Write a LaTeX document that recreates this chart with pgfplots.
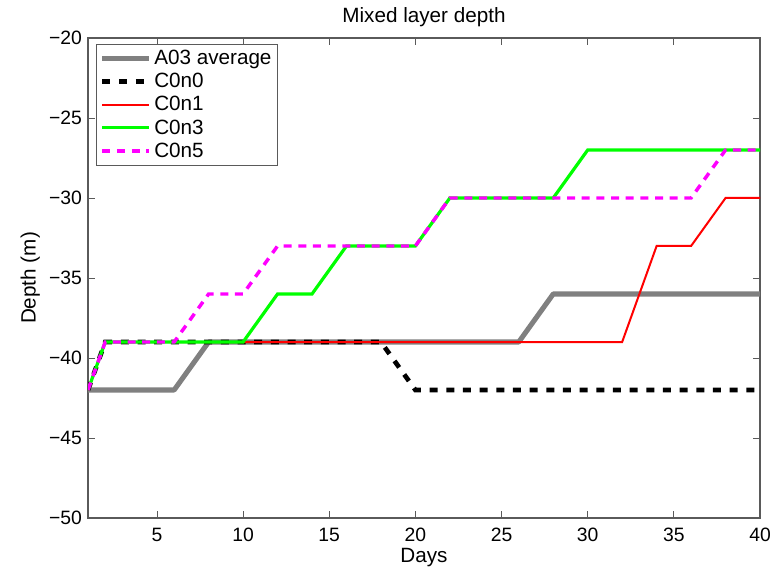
\documentclass[border=0pt]{standalone}
\usepackage{pgfplots}
\pgfplotsset{compat=1.18}
\usepackage{fontspec}
\setmainfont{Liberation Sans}
\definecolor{mgray}{RGB}{128,128,128}
\definecolor{axgray}{RGB}{90,90,90}
\definecolor{mmag}{RGB}{255,0,255}
\definecolor{mgreen}{RGB}{0,255,0}
\definecolor{mred}{RGB}{255,0,0}
\begin{document}
\begin{tikzpicture}
\begin{axis}[
  scale only axis,
  width=504pt, height=360pt,
  at={(0,0)}, anchor=south west,
  xmin=1, xmax=40, ymin=-50, ymax=-20,
  xtick={5,10,15,20,25,30,35,40},
  xticklabels={5,10,15,20,25,30,35,40},
  ytick={-50,-45,-40,-35,-30,-25,-20},
  yticklabels={−50,−45,−40,−35,−30,−25,−20},
  tick align=inside,
  major tick length=5pt,
  tick style={axgray, line width=0.6pt},
  axis line style={axgray, line width=0.8pt},
  tick label style={font=\fontsize{14.5}{17}\selectfont, black},
  xticklabel style={yshift=-4pt},
  yticklabel style={xshift=-1pt},
  title={Mixed layer depth},
  title style={font=\fontsize{15.5}{18}\selectfont, yshift=-1pt},
  xlabel={Days},
  ylabel={Depth (m)},
  label style={font=\fontsize{15.5}{18}\selectfont},
  xlabel style={yshift=2pt},
  ylabel style={yshift=0pt},
  legend style={at={(axis description cs:0.012,0.988)}, anchor=north west,
    draw=axgray, line width=0.8pt, font=\fontsize{15.5}{18}\selectfont,
    row sep=1pt, inner sep=2.5pt, cells={anchor=west}},
  legend image code/.code={\draw[#1] (0pt,0pt) -- (35pt,0pt);},
  clip=true,
]
\addplot[mgray, line width=3.8pt, line join=round] coordinates {
(1,-42) (2,-42) (4,-42) (6,-42) (8,-39) (10,-39) (12,-39) (14,-39) (16,-39) (18,-39) (20,-39) (22,-39) (24,-39) (26,-39) (28,-36) (30,-36) (32,-36) (34,-36) (36,-36) (38,-36) (40,-36)};
\addlegendentry{A03 average}
\addplot[black, line width=3.5pt, dash pattern=on 6pt off 6.5pt] coordinates {
(1,-42) (2,-39) (4,-39) (6,-39) (8,-39) (10,-39) (12,-39) (14,-39) (16,-39) (18,-39) (20,-42) (22,-42) (24,-42) (26,-42) (28,-42) (30,-42) (32,-42) (34,-42) (36,-42) (38,-42) (40,-42)};
\addlegendentry{C0n0}
\addplot[mred, line width=1.5pt] coordinates {
(1,-42) (2,-39) (4,-39) (6,-39) (8,-39) (10,-39) (12,-39) (14,-39) (16,-39) (18,-39) (20,-39) (22,-39) (24,-39) (26,-39) (28,-39) (30,-39) (32,-39) (34,-33) (36,-33) (38,-30) (40,-30)};
\addlegendentry{C0n1}
\addplot[mgreen, line width=2.4pt] coordinates {
(1,-42) (2,-39) (4,-39) (6,-39) (8,-39) (10,-39) (12,-36) (14,-36) (16,-33) (18,-33) (20,-33) (22,-30) (24,-30) (26,-30) (28,-30) (30,-27) (32,-27) (34,-27) (36,-27) (38,-27) (40,-27)};
\addlegendentry{C0n3}
\addplot[mmag, line width=2.6pt, dash pattern=on 6pt off 5pt] coordinates {
(1,-42) (2,-39) (4,-39) (6,-39) (8,-36) (10,-36) (12,-33) (14,-33) (16,-33) (18,-33) (20,-33) (22,-30) (24,-30) (26,-30) (28,-30) (30,-30) (32,-30) (34,-30) (36,-30) (38,-27) (40,-27)};
\addlegendentry{C0n5}
\end{axis}
\pgfresetboundingbox
\path (-66pt,-36.75pt) rectangle (519pt,388.5pt);
\end{tikzpicture}
\end{document}
